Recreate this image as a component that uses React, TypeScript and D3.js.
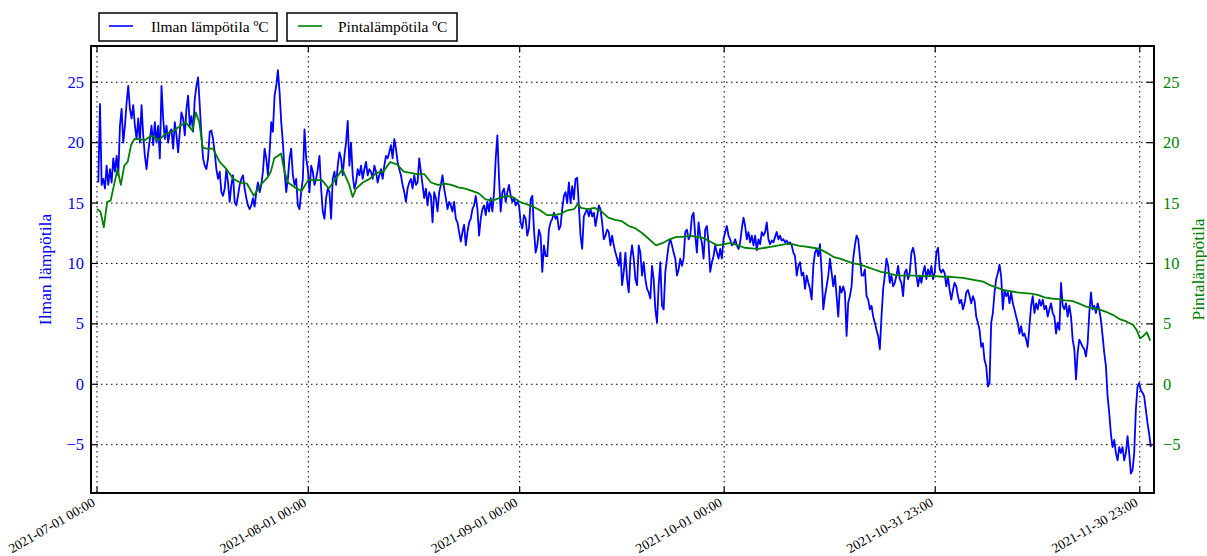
import React from 'react';
import * as d3 from 'd3';

// ---------- data ----------
const START = Date.UTC(2021, 6, 1, 0, 0); // 2021-07-01 00:00
const DAY = 86400000;
const SAMPLE_STEP_DAYS = 0.2439; // sampling interval of the air-temperature readings

const xTickLabels = [
  '2021-07-01 00:00',
  '2021-08-01 00:00',
  '2021-09-01 00:00',
  '2021-10-01 00:00',
  '2021-10-31 23:00',
  '2021-11-30 23:00',
];
const yTicks = [-5, 0, 5, 10, 15, 20, 25];

// Air temperature (Ilman lämpötila), segments: start day offset from 2021-07-01
const airSegmentStarts = [0.195, 31.17, 63.61, 93.37, 124.34];
const airJul = [
  16.7, 23.2, 16.5, 17.0, 16.2, 18.1, 16.5, 17.8, 16.7, 18.7,
  17.6, 18.9, 17.3, 21.4, 22.8, 20.0, 21.4, 23.3, 24.7, 22.8,
  22.0, 23.1, 21.4, 20.3, 22.0, 20.0, 23.1, 20.6, 18.9, 17.8,
  19.2, 20.3, 21.4, 19.8, 21.7, 20.0, 21.4, 18.7, 24.7, 22.0,
  20.3, 21.4, 20.0, 20.9, 21.1, 19.5, 21.7, 20.6, 19.2, 20.9,
  22.5, 22.0, 20.6, 22.8, 23.9, 21.4, 22.2, 20.9, 23.6, 24.7,
  25.4, 23.1, 20.6, 18.7, 18.1, 17.8, 18.7, 20.9, 21.0, 20.3,
  19.2, 17.8, 17.0, 17.6, 15.9, 15.6, 16.2, 17.8, 16.7, 15.1,
  16.5, 17.3, 15.1, 14.8, 15.6, 16.5, 17.0, 17.3, 16.2, 15.4,
  14.8, 14.5, 14.8, 15.4, 14.7, 15.9, 16.7, 15.9, 16.5, 17.6,
  19.5, 18.7, 17.3, 19.2, 21.7, 20.9, 23.9, 24.7, 26.0, 24.2,
  21.7, 20.0, 17.6, 15.9, 17.0, 18.7, 19.5, 17.3, 16.5, 17.0,
  14.8, 14.5, 15.9, 17.0, 21.1, 18.7, 17.8,
];
const airAug = [
  15.9, 18.1, 17.6, 16.5, 17.0, 17.8, 18.9, 16.2, 14.3, 13.7,
  15.4, 16.2, 15.9, 13.7, 17.0, 17.6, 16.5, 18.1, 19.2, 18.7,
  17.3, 18.9, 20.0, 21.8, 18.1, 20.0, 17.3, 16.2, 16.7, 17.8,
  17.3, 18.1, 17.0, 17.8, 18.4, 17.3, 17.8, 17.6, 17.0, 18.1,
  17.6, 16.7, 17.3, 17.8, 17.0, 18.1, 18.9, 18.7, 19.2, 19.8,
  18.7, 20.3, 19.5, 18.4, 17.8, 17.3, 16.5, 15.9, 15.1, 16.2,
  16.7, 17.0, 16.2, 17.3, 16.5, 16.7, 18.7, 17.6, 16.5, 15.4,
  16.2, 14.8, 15.9, 15.6, 13.4, 15.9, 15.4, 14.3, 15.9, 16.5,
  17.3, 16.2, 15.4, 14.5, 15.1, 14.8, 14.3, 15.1, 13.7, 13.4,
  12.6, 11.8, 12.6, 13.2, 11.5, 12.6, 13.4, 13.7, 14.5, 14.8,
  15.6, 14.5, 12.3, 13.7, 14.5, 14.8, 14.0, 15.1, 14.3, 15.4,
  14.3, 15.9, 18.7, 20.6, 17.0, 14.3, 15.9, 16.2, 15.1, 15.9,
  16.5, 15.6, 15.1, 15.4, 14.8, 15.1, 14.8, 13.4, 12.9, 14.0,
  13.7, 12.3, 12.9,
];
const airSep = [
  15.3, 15.6, 12.8, 10.9, 11.5, 12.8, 12.3, 9.3, 11.5, 10.6,
  10.6, 12.8, 13.4, 13.7, 14.2, 13.7, 13.9, 12.8, 13.1, 14.5,
  15.6, 15.9, 15.0, 16.7, 15.0, 16.4, 15.3, 17.0, 17.1, 14.8,
  12.3, 11.2, 13.9, 14.2, 14.5, 13.9, 14.5, 13.9, 14.2, 13.1,
  13.9, 14.8, 14.5, 13.4, 12.0, 12.3, 12.8, 12.6, 11.5, 12.3,
  11.5, 10.9, 10.4, 9.8, 10.9, 8.2, 9.3, 10.9, 8.7, 7.6,
  10.4, 11.5, 10.4, 8.7, 8.2, 11.5, 10.9, 9.0, 10.1, 8.7,
  7.9, 7.6, 7.1, 9.8, 8.7, 6.2, 5.1, 8.2, 10.1, 6.5,
  6.2, 9.3, 10.4, 11.5, 12.0, 11.5, 10.9, 10.4, 9.0, 9.5,
  10.4, 9.8, 10.4, 12.6, 12.8, 12.0, 12.3, 13.9, 14.2, 12.3,
  10.9, 13.4, 12.3, 11.7, 10.4, 12.8, 13.1, 11.7, 9.3, 10.1,
  10.6, 11.5, 10.9, 10.4, 11.2, 10.4, 12.0, 12.6, 13.1, 12.3,
  12.0, 11.5,
];
const airOct = [
  11.6, 12.0, 11.5, 11.2, 11.75, 12.9, 13.8, 13.1, 12.0, 12.6,
  11.75, 12.3, 11.5, 12.3, 11.1, 12.0, 11.6, 12.6, 12.3, 12.6,
  13.4, 12.0, 11.6, 11.9, 11.75, 12.2, 12.6, 12.0, 12.3, 11.9,
  12.0, 11.75, 11.9, 11.6, 11.75, 11.5, 10.9, 10.6, 9.0, 9.8,
  10.1, 9.0, 9.25, 7.9, 9.0, 8.4, 7.9, 7.0, 9.8, 10.9,
  11.2, 10.6, 11.6, 9.25, 6.2, 7.3, 8.1, 9.0, 10.4, 9.25,
  8.1, 9.0, 7.3, 5.6, 8.1, 7.6, 8.1, 7.6, 4.0, 6.75,
  7.3, 8.1, 10.4, 11.5, 12.3, 12.0, 10.6, 9.0, 9.0, 9.5,
  7.3, 7.0, 6.2, 6.5, 5.6, 5.1, 4.5, 4.0, 2.9, 5.6,
  7.9, 9.0, 10.4, 9.8, 8.4, 9.0, 8.1, 8.4, 9.0, 9.8,
  8.7, 8.4, 7.3, 9.25, 9.5, 8.7, 9.25, 10.9, 11.3, 10.6,
  9.0, 8.1, 9.0, 8.4, 9.25, 9.8, 8.7, 9.5, 9.0, 9.8,
  8.7, 9.25, 10.9, 11.3, 9.5, 9.25, 9.5,
];
const airNov = [
  9.2, 8.1, 8.9, 7.8, 7.0, 7.8, 8.4, 8.1, 7.3, 6.7,
  7.0, 6.2, 6.7, 7.6, 7.8, 7.3, 6.7, 7.3, 6.9, 5.6,
  5.1, 4.5, 3.1, 3.4, 2.0, 1.5, -0.2, 0.1, 5.1, 5.9,
  7.6, 8.7, 9.2, 9.9, 8.9, 6.2, 7.8, 7.3, 7.6, 6.7,
  7.6, 6.7, 6.2, 5.6, 5.1, 4.2, 4.8, 4.0, 4.2, 3.7,
  3.1, 4.8, 6.5, 7.3, 5.9, 6.7, 6.2, 7.0, 6.5, 7.0,
  6.2, 6.5, 5.6, 6.2, 6.7, 5.9, 5.6, 4.2, 5.1, 4.5,
  8.4, 6.5, 6.2, 6.7, 5.6, 6.5, 5.6, 3.7, 2.9, 0.4,
  2.6, 3.7, 3.4, 3.1, 2.9, 2.3, 3.4, 5.9, 7.6, 6.2,
  6.5, 5.9, 6.7, 6.2, 5.3, 4.0, 2.6, 1.5, -1.0, -2.4,
  -4.1, -5.2, -4.6, -5.7, -6.3, -5.2, -5.7, -5.2, -6.3, -5.7,
  -4.3, -5.7, -7.4, -7.1, -5.7, -2.1, -0.2, 0.1, -0.5, -0.7,
  -1.0, -2.1, -3.2, -4.1, -5.2,
];
const airSegments = [airJul, airAug, airSep, airOct, airNov];

// Surface temperature (Pintalämpötila): [day offset from 2021-07-01, °C]
const surfaceTemp: [number, number][] = [
  [0, 14.5], [0.5, 14.3], [1, 13.0], [1.5, 15.1], [2, 15.2], [2.5, 16.5], [3, 17.8], [3.5, 16.5],
  [4, 18.1], [4.5, 18.4], [5, 19.8], [5.5, 20.3], [6, 20.3], [7, 20.2], [8, 20.6], [9, 20.2],
  [10, 20.7], [11, 20.9], [12, 21.3], [13, 21.7], [14, 21.0], [14.5, 22.5], [15, 21.7], [15.5, 19.6],
  [16, 19.5], [17, 19.5], [18, 18.4], [19, 17.8], [20, 17.0], [21, 16.7], [22, 16.6], [23, 15.6],
  [24, 16.5], [25, 17.1], [25.5, 17.6], [26, 18.7], [26.5, 18.9], [27, 19.1], [27.5, 17.6], [28, 16.7],
  [29, 16.3], [30, 16.0], [31, 16.9], [32, 16.9], [33, 16.9], [34, 16.2], [35, 17.0], [36, 17.8],
  [37, 16.5], [37.5, 15.5], [38, 16.2], [39, 16.7], [40, 17.0], [41, 17.5], [42, 17.6], [43, 18.4],
  [44, 18.2], [45, 17.6], [46, 17.5], [47, 17.4], [48, 17.4], [49, 16.7], [50, 16.5], [51, 16.6],
  [52, 16.5], [53, 16.3], [54, 16.2], [55, 16.0], [56, 15.8], [57, 15.3], [58, 15.2], [59, 15.4],
  [60, 15.6], [61, 15.5], [62, 15.1], [63, 14.9], [64, 14.7], [65, 14.4], [66, 14.0], [67, 14.0],
  [68, 14.1], [69, 14.4], [70, 14.5], [70.5, 14.9], [71, 14.6], [72, 14.5], [73, 14.6], [74, 14.3],
  [75, 13.8], [76, 13.6], [77, 13.5], [78, 13.1], [79, 12.9], [80, 12.5], [81, 12.0], [82, 11.5],
  [83, 11.7], [84, 12.0], [85, 12.2], [86, 12.2], [87, 12.3], [88, 12.2], [89, 12.1], [90, 11.8],
  [91, 11.5], [92, 11.6], [93, 11.7], [94, 11.5], [95, 11.3], [96, 11.25], [97, 11.2], [98, 11.3],
  [99, 11.4], [100, 11.5], [101, 11.6], [102, 11.6], [103, 11.45], [104, 11.4], [105, 11.3], [106, 11.2],
  [107, 10.9], [108, 10.55], [109, 10.4], [110, 10.2], [111, 10.0], [112, 9.9], [113, 9.7], [114, 9.5],
  [115, 9.3], [116, 9.2], [117, 9.05], [118, 9.0], [119, 9.0], [120, 9.0], [121, 8.95], [122, 8.95],
  [123, 8.95], [124, 8.9], [125, 8.9], [126, 8.85], [127, 8.8], [128, 8.7], [129, 8.6], [130, 8.5],
  [131, 8.2], [132, 8.0], [133, 7.8], [134, 7.7], [135, 7.6], [136, 7.55], [137, 7.5], [138, 7.4],
  [139, 7.2], [140, 7.1], [141, 7.05], [142, 6.95], [143, 6.9], [144, 6.7], [145, 6.45], [146, 6.3],
  [147, 6.2], [148, 6.0], [149, 5.75], [150, 5.4], [151, 5.2], [152, 4.9], [152.5, 4.5], [153, 3.8],
  [153.5, 4.0], [154, 4.3], [154.5, 3.6],
];

const seriesNames = ['Ilman lämpötila ºC', 'Pintalämpötila ºC'];
const axisTitles = ['Ilman lämpötila', 'Pintalämpötila'];

// ---------- styling / layout ----------
const W = 1207;
const H = 556;
const M = { left: 91, right: 1154, top: 46, bottom: 493 };
const BLUE = '#0000ff';
const GREEN = '#008000';
const FONT = "'Liberation Serif', 'Times New Roman', Times, 'DejaVu Serif', serif";
const TXT = { fontFamily: FONT };

type Pt = { t: Date; v: number };

export default function App() {
  const x = d3
    .scaleUtc()
    .domain([new Date(START - 0.88 * DAY), new Date(START + 155.05 * DAY)])
    .range([M.left, M.right]);
  const y = d3.scaleLinear().domain([-9, 28]).range([M.bottom, M.top]);
  const yRight = d3.scaleLinear().domain([-9, 28]).range([M.bottom, M.top]);

  const airPts: Pt[] = [];
  airSegments.forEach((seg, si) => {
    seg.forEach((v, i) => {
      airPts.push({ t: new Date(START + (airSegmentStarts[si] + i * SAMPLE_STEP_DAYS) * DAY), v });
    });
  });
  const surfPts: Pt[] = surfaceTemp.map(([d, v]) => ({ t: new Date(START + d * DAY), v }));

  const airLine = d3
    .line<Pt>()
    .x((d) => x(d.t))
    .y((d) => y(d.v));
  const surfLine = d3
    .line<Pt>()
    .x((d) => x(d.t))
    .y((d) => yRight(d.v));

  const parse = d3.utcParse('%Y-%m-%d %H:%M');
  const xTicks = xTickLabels.map((l) => ({ label: l, t: parse(l) as Date }));
  const fmtY = (v: number) => (v < 0 ? '\u2212' + Math.abs(v) : String(v));

  const midY = (M.top + M.bottom) / 2;

  return (
    <svg
      width={W}
      height={H}
      style={{ position: 'absolute', left: 0, top: 0, background: '#fff', fontFamily: FONT }}
    >
      <rect x={0} y={0} width={W} height={H} fill="#fff" />
      <defs>
        <clipPath id="plotclip">
          <rect x={M.left} y={M.top} width={M.right - M.left} height={M.bottom - M.top} />
        </clipPath>
      </defs>

      {/* grid */}
      <g stroke="#000" strokeWidth={1} strokeDasharray="1.5,3.5">
        {xTicks.map((d) => (
          <line key={d.label} x1={x(d.t)} x2={x(d.t)} y1={M.top} y2={M.bottom} />
        ))}
        {yTicks.map((v) => (
          <line key={v} x1={M.left} x2={M.right} y1={y(v)} y2={y(v)} />
        ))}
      </g>

      {/* series */}
      <g clipPath="url(#plotclip)" fill="none" strokeLinejoin="round">
        <path d={airLine(airPts) || ''} stroke={BLUE} strokeWidth={1.8} />
        <path d={surfLine(surfPts) || ''} stroke={GREEN} strokeWidth={1.8} />
      </g>

      {/* ticks (inward) */}
      <g stroke="#000" strokeWidth={1.2}>
        {xTicks.map((d) => (
          <g key={d.label}>
            <line x1={x(d.t)} x2={x(d.t)} y1={M.bottom} y2={M.bottom - 6} />
            <line x1={x(d.t)} x2={x(d.t)} y1={M.top} y2={M.top + 6} />
          </g>
        ))}
        {yTicks.map((v) => (
          <g key={v}>
            <line x1={M.left} x2={M.left + 7} y1={y(v)} y2={y(v)} />
            <line x1={M.right} x2={M.right - 7} y1={yRight(v)} y2={yRight(v)} />
          </g>
        ))}
      </g>

      {/* frame */}
      <rect
        x={M.left}
        y={M.top}
        width={M.right - M.left}
        height={M.bottom - M.top}
        fill="none"
        stroke="#000"
        strokeWidth={2}
      />

      {/* left y tick labels */}
      <g fill={BLUE} fontSize={16.5} textAnchor="end" dominantBaseline="central">
        {yTicks.map((v) => (
          <text key={v} x={M.left - 7} y={y(v)} style={TXT}>
            {fmtY(v)}
          </text>
        ))}
      </g>
      {/* right y tick labels */}
      <g fill={GREEN} fontSize={16.5} textAnchor="start" dominantBaseline="central">
        {yTicks.map((v) => (
          <text key={v} x={M.right + 9} y={yRight(v)} style={TXT}>
            {fmtY(v)}
          </text>
        ))}
      </g>

      {/* x tick labels */}
      <g fill="#000" fontSize={13.5} textAnchor="end">
        {xTicks.map((d) => (
          <text
            key={d.label}
            transform={`translate(${x(d.t) - 1},${M.bottom + 12}) rotate(-30)`}
            style={TXT}
          >
            {d.label}
          </text>
        ))}
      </g>

      {/* axis titles */}
      <text
        transform={`translate(${51},${midY}) rotate(-90)`}
        textAnchor="middle"
        fill={BLUE}
        fontSize={17.5}
        style={TXT}
      >
        {axisTitles[0]}
      </text>
      <text
        transform={`translate(${1204},${midY}) rotate(-90)`}
        textAnchor="middle"
        fill={GREEN}
        fontSize={17.5}
        style={TXT}
      >
        {axisTitles[1]}
      </text>

      {/* legend */}
      <g fontSize={15.5} fill="#000">
        <rect x={99} y={13} width={178} height={28} fill="#fff" stroke="#000" strokeWidth={1.5} />
        <line x1={109} x2={133} y1={26} y2={26} stroke={BLUE} strokeWidth={1.6} />
        <text x={151} y={32} style={TXT}>
          {seriesNames[0]}
        </text>
        <rect x={287} y={13} width={170} height={28} fill="#fff" stroke="#000" strokeWidth={1.5} />
        <line x1={298} x2={322} y1={26} y2={26} stroke={GREEN} strokeWidth={1.6} />
        <text x={338} y={32} style={TXT}>
          {seriesNames[1]}
        </text>
      </g>
    </svg>
  );
}
